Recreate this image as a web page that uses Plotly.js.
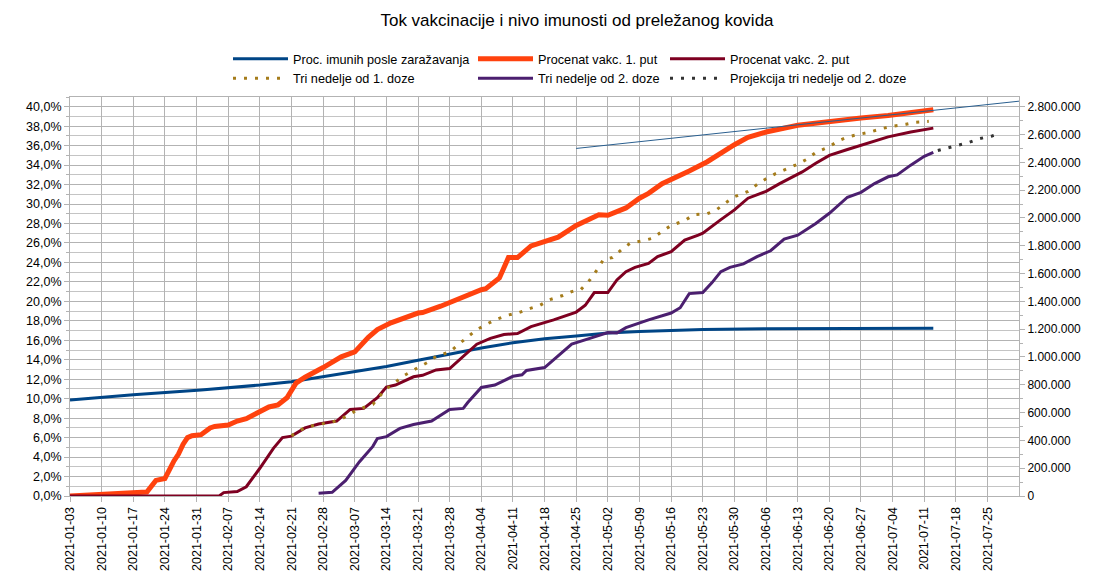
<!DOCTYPE html>
<html>
<head>
<meta charset="utf-8">
<script src="https://cdn.plot.ly/plotly-3.0.1.min.js"></script>
<style>html,body{margin:0;padding:0;background:#fff;}#chart{width:1106px;height:586px;}</style>
</head>
<body>
<div id="chart"></div>
<script>
// ---- Data ----
const seriesNames = [
  'Proc. imunih posle zaražavanja',
  'Procenat vakc. 1. put',
  'Procenat vakc. 2. put',
  'Tri nedelje od 1. doze',
  'Tri nedelje od 2. doze',
  'Projekcija tri nedelje od 2. doze'
];

const immuneDates = ['2021-01-03','2021-01-17','2021-02-01','2021-02-14','2021-02-21','2021-02-28','2021-03-07','2021-03-14','2021-03-21','2021-03-28','2021-04-04','2021-04-11','2021-04-18','2021-04-25','2021-05-02','2021-05-09','2021-05-16','2021-05-23','2021-06-06','2021-06-20','2021-07-13'];
const immunePct = [9.86,10.4,10.9,11.4,11.75,12.25,12.75,13.3,13.95,14.6,15.2,15.75,16.15,16.45,16.75,16.9,17.0,17.1,17.18,17.22,17.25];

const dose1Dates = ['2021-01-03','2021-01-11','2021-01-19','2021-01-20','2021-01-22','2021-01-23','2021-01-24','2021-01-26','2021-01-27','2021-01-28','2021-01-29','2021-01-30','2021-02-01','2021-02-03','2021-02-04','2021-02-07','2021-02-09','2021-02-11','2021-02-14','2021-02-16','2021-02-18','2021-02-20','2021-02-22','2021-02-24','2021-02-28','2021-03-04','2021-03-07','2021-03-10','2021-03-12','2021-03-15','2021-03-21','2021-03-22','2021-03-26','2021-03-29','2021-04-01','2021-04-04','2021-04-05','2021-04-08','2021-04-10','2021-04-12','2021-04-15','2021-04-18','2021-04-21','2021-04-25','2021-04-28','2021-04-30','2021-05-02','2021-05-06','2021-05-09','2021-05-11','2021-05-14','2021-05-17','2021-05-20','2021-05-24','2021-05-27','2021-05-30','2021-06-02','2021-06-06','2021-06-13','2021-06-20','2021-06-27','2021-07-03','2021-07-08','2021-07-13'];
const dose1Pct = [0,0.15,0.35,0.4,1.6,1.7,1.8,3.6,4.3,5.3,6.0,6.2,6.3,7.0,7.15,7.3,7.7,7.95,8.7,9.15,9.35,10.1,11.6,12.2,13.2,14.3,14.8,16.3,17.1,17.8,18.8,18.85,19.5,20.1,20.65,21.2,21.3,22.4,24.5,24.5,25.7,26.2,26.6,27.8,28.4,28.9,28.85,29.6,30.6,31.1,32.1,32.7,33.4,34.35,35.3,36.1,36.85,37.4,38.1,38.5,38.85,39.1,39.35,39.7];

const dose2Dates = ['2021-01-03','2021-02-05','2021-02-06','2021-02-09','2021-02-11','2021-02-14','2021-02-17','2021-02-19','2021-02-21','2021-02-24','2021-02-27','2021-03-03','2021-03-06','2021-03-09','2021-03-12','2021-03-14','2021-03-16','2021-03-20','2021-03-22','2021-03-25','2021-03-28','2021-03-30','2021-04-03','2021-04-06','2021-04-09','2021-04-12','2021-04-15','2021-04-20','2021-04-23','2021-04-25','2021-04-27','2021-04-29','2021-05-02','2021-05-04','2021-05-06','2021-05-08','2021-05-11','2021-05-13','2021-05-16','2021-05-19','2021-05-22','2021-05-23','2021-05-27','2021-05-30','2021-06-02','2021-06-05','2021-06-06','2021-06-09','2021-06-13','2021-06-14','2021-06-17','2021-06-20','2021-06-24','2021-06-29','2021-07-03','2021-07-08','2021-07-13'];
const dose2Pct = [0,0,0.35,0.45,0.95,2.85,4.9,6.0,6.15,7.0,7.4,7.7,8.9,9.0,10.1,11.2,11.4,12.25,12.4,12.95,13.1,13.9,15.6,16.2,16.6,16.7,17.4,18.1,18.6,18.9,19.6,20.9,20.9,22.2,23.05,23.5,23.9,24.6,25.1,26.3,26.8,27.0,28.4,29.4,30.6,31.15,31.3,32.1,33.0,33.3,34.2,35.0,35.6,36.3,36.9,37.4,37.8];

const threeWk1Dates = ['2021-02-21','2021-02-24','2021-02-27','2021-03-02','2021-03-04','2021-03-07','2021-03-09','2021-03-11','2021-03-12','2021-03-14','2021-03-16','2021-03-18','2021-03-21','2021-03-23','2021-03-25','2021-03-28','2021-03-30','2021-04-01','2021-04-03','2021-04-05','2021-04-07','2021-04-10','2021-04-12','2021-04-15','2021-04-17','2021-04-19','2021-04-22','2021-04-24','2021-04-26','2021-04-28','2021-04-30','2021-05-01','2021-05-03','2021-05-05','2021-05-07','2021-05-10','2021-05-12','2021-05-14','2021-05-16','2021-05-19','2021-05-21','2021-05-24','2021-05-26','2021-05-28','2021-05-30','2021-06-02','2021-06-04','2021-06-06','2021-06-08','2021-06-11','2021-06-13','2021-06-15','2021-06-17','2021-06-20','2021-06-22','2021-06-24','2021-06-27','2021-06-29','2021-07-02','2021-07-04','2021-07-07','2021-07-09','2021-07-12'];
const threeWk1Pct = [6.2,7.05,7.35,7.6,7.9,8.7,9.1,9.4,10.0,11.0,11.7,12.4,13.2,13.7,14.35,14.8,15.6,16.4,17.1,17.6,18.1,18.6,18.8,19.3,19.6,20.15,20.6,21.0,21.2,22.2,23.5,24.3,24.5,25.3,26.0,26.25,26.5,27.2,27.8,28.3,28.9,29.0,29.4,30.1,30.75,31.3,32.0,32.6,33.1,33.7,34.1,34.6,35.3,35.9,36.5,36.9,37.2,37.4,37.8,38.0,38.2,38.4,38.5];

const threeWk2Dates = ['2021-02-27','2021-03-02','2021-03-05','2021-03-08','2021-03-11','2021-03-12','2021-03-14','2021-03-17','2021-03-20','2021-03-24','2021-03-28','2021-03-31','2021-04-01','2021-04-04','2021-04-07','2021-04-11','2021-04-13','2021-04-14','2021-04-18','2021-04-20','2021-04-24','2021-04-28','2021-05-02','2021-05-04','2021-05-06','2021-05-11','2021-05-16','2021-05-18','2021-05-20','2021-05-23','2021-05-25','2021-05-27','2021-05-29','2021-06-01','2021-06-04','2021-06-07','2021-06-10','2021-06-13','2021-06-17','2021-06-20','2021-06-24','2021-06-27','2021-06-30','2021-07-03','2021-07-05','2021-07-08','2021-07-11','2021-07-13'];
const threeWk2Pct = [0.27,0.38,1.6,3.5,5.1,5.9,6.1,6.95,7.35,7.7,8.9,9.0,9.6,11.15,11.4,12.3,12.45,12.9,13.2,14.0,15.6,16.2,16.8,16.75,17.3,18.1,18.8,19.35,20.8,20.9,21.9,23.05,23.5,23.85,24.6,25.2,26.4,26.8,28.0,29.05,30.7,31.2,32.1,32.8,33.0,34.0,34.9,35.3];

const projDates = ['2021-07-14','2021-07-16','2021-07-18','2021-07-21','2021-07-23','2021-07-26','2021-07-28'];
const projPct = [35.5,35.75,36.0,36.35,36.7,37.0,37.3];

// thin trend line (right axis, persons)
const trendDates = ['2021-04-25','2021-08-01'];
const trendPersons = [2500000,2840000];

// ---- Traces ----
const font = 'Liberation Sans, Arial, sans-serif';
const traces = [
  {x: immuneDates, y: immunePct, name: seriesNames[0], mode:'lines', line:{color:'#004586', width:3}, legend:'legend'},
  {x: dose1Dates, y: dose1Pct, name: seriesNames[1], mode:'lines', line:{color:'#ff420e', width:5}, legend:'legend2'},
  {x: dose2Dates, y: dose2Pct, name: seriesNames[2], mode:'lines', line:{color:'#7e0021', width:3}, legend:'legend3'},
  {x: threeWk1Dates, y: threeWk1Pct, name: seriesNames[3], mode:'lines', line:{color:'#a57c1b', width:3, dash:'3px,8px'}, legend:'legend'},
  {x: threeWk2Dates, y: threeWk2Pct, name: seriesNames[4], mode:'lines', line:{color:'#4b1f6f', width:3}, legend:'legend2'},
  {x: projDates, y: projPct, name: seriesNames[5], mode:'lines', line:{color:'#333333', width:3, dash:'3px,8px'}, legend:'legend3'},
  {x: trendDates, y: trendPersons, yaxis:'y2', mode:'lines', line:{color:'#2a5f8f', width:1}, showlegend:false, hoverinfo:'skip'}
];

const legendBase = {
  xref:'container', yref:'container', xanchor:'left', yanchor:'top',
  y: 1 - 44/586, orientation:'v', itemwidth:55, tracegroupgap:0,
  font:{family:font, size:12.7, color:'#000'}, bgcolor:'rgba(0,0,0,0)', borderwidth:0
};

const gridC = '#b3b3b3';
const layout = {
  width:1106, height:586,
  separators: ',.',
  paper_bgcolor:'#ffffff', plot_bgcolor:'#ffffff',
  font:{family:font, size:12, color:'#000'},
  margin:{l:70, r:87, t:97, b:90, pad:0, autoexpand:false},
  showlegend:true,
  title:{text:'Tok vakcinacije i nivo imunosti od preležanog kovida', font:{family:font, size:17, color:'#000'},
         xref:'container', x:577/1106, xanchor:'center', yref:'container', y:1-20/586, yanchor:'middle'},
  legend: Object.assign({}, legendBase, {x: 228/1106}),
  legend2: Object.assign({}, legendBase, {x: 473/1106}),
  legend3: Object.assign({}, legendBase, {x: 665/1106}),
  xaxis:{type:'date', range:['2021-01-03','2021-07-31 23:00'], tick0:'2021-01-03', dtick:604800000,
         tickformat:'%Y-%m-%d', tickangle:-90, showgrid:true, gridcolor:gridC, gridwidth:1,
         ticks:'outside', ticklen:5, tickcolor:gridC, showline:true, linecolor:gridC, mirror:true,
         zeroline:false, automargin:false, tickfont:{family:font, size:12.5, color:'#000'}},
  yaxis:{range:[0,41], tick0:0, dtick:2, tickformat:'.1f', ticksuffix:'%', showgrid:true, gridcolor:gridC,
         minor:{dtick:1, showgrid:true, gridcolor:'#c4c4c4', ticks:'outside', ticklen:3, tickcolor:gridC},
         ticks:'outside', ticklen:5, tickcolor:gridC, showline:true, linecolor:gridC, zeroline:false,
         automargin:false, tickfont:{family:font, size:12.5, color:'#000'}},
  yaxis2:{overlaying:'y', side:'right', range:[0,2870000], tick0:0, dtick:200000, tickformat:',d',
          showgrid:false, ticks:'outside', ticklen:5, tickcolor:gridC,
          minor:{dtick:100000, ticks:'outside', ticklen:3, tickcolor:gridC},
          showline:true, linecolor:gridC, zeroline:false, automargin:false,
          tickfont:{family:font, size:12, color:'#000'}}
};

Plotly.newPlot('chart', traces, layout, {displayModeBar:false, staticPlot:true});
</script>
</body>
</html>
